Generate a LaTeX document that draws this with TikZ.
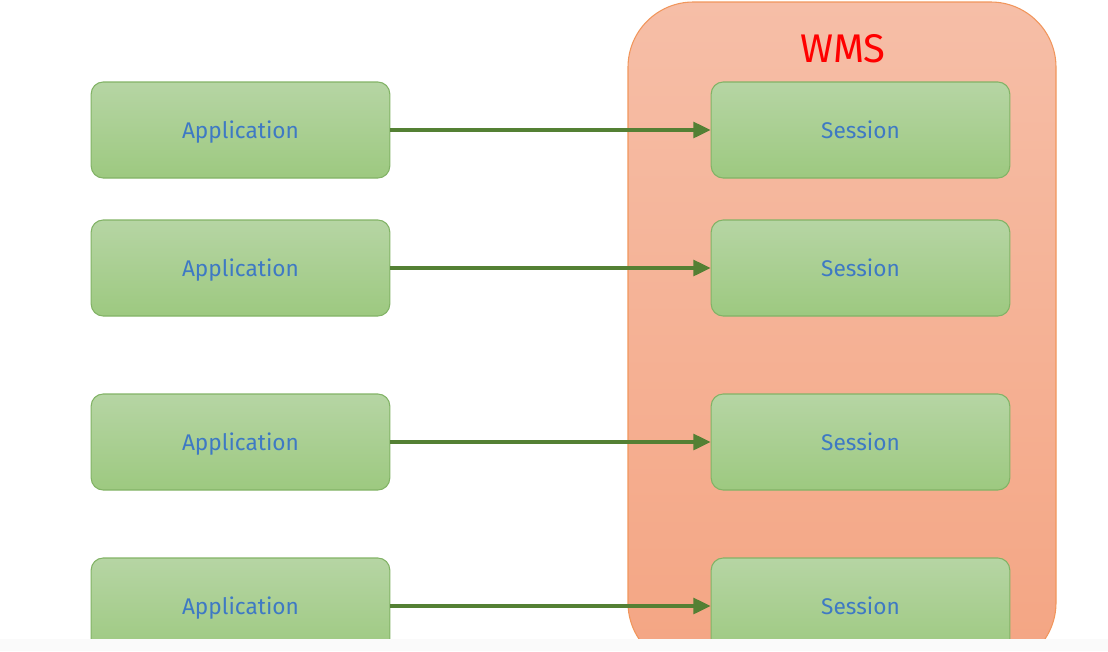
\documentclass[tikz,border=0pt]{standalone}
\usepackage{fontspec}
\setmainfont{Fira Sans}
\usetikzlibrary{arrows.meta}
\definecolor{boxtop}{RGB}{182,213,164}
\definecolor{boxbot}{RGB}{157,201,128}
\definecolor{boxline}{RGB}{130,179,102}
\definecolor{txtblue}{RGB}{62,121,196}
\definecolor{arrgreen}{RGB}{84,128,52}
\definecolor{wmstop}{RGB}{246,190,167}
\definecolor{wmsbot}{RGB}{244,165,131}
\definecolor{wmsline}{RGB}{241,150,92}
\tikzset{
  greenbox/.style={draw=boxline, line width=0.8pt, rounded corners=9pt,
    top color=boxtop, bottom color=boxbot, minimum width=224pt,
    minimum height=72pt, text=txtblue, font=\fontsize{17}{20}\selectfont,
    text height=12pt, text depth=0pt},
  link/.style={draw=arrgreen, line width=2.3pt,
    -{Triangle[length=13pt, width=12pt]}}
}
\begin{document}
\begin{tikzpicture}[x=0.75pt, y=-0.75pt]
\useasboundingbox (0,0) rectangle (1108,651);
\begin{scope}
\clip (0,0) rectangle (1108,639);
% container
\draw[draw=wmsline, line width=0.8pt, rounded corners=49pt, top color=wmstop,
  bottom color=wmsbot] (628,2) rectangle (1056,668);
\node[text=red, font=\fontsize{30}{34}\selectfont] (wms) at (843,49) {WMS};
% applications and sessions
\foreach \i/\y in {1/130, 2/268, 3/442, 4/606} {
  \node[greenbox] (app\i) at (240.5,\y) {Application};
  \node[greenbox] (ses\i) at (860.5,\y) {Session};
  \draw[link] (app\i) -- (ses\i);
}
\end{scope}
\fill[black!2] (0,639) rectangle (1108,651);
\end{tikzpicture}
\end{document}
